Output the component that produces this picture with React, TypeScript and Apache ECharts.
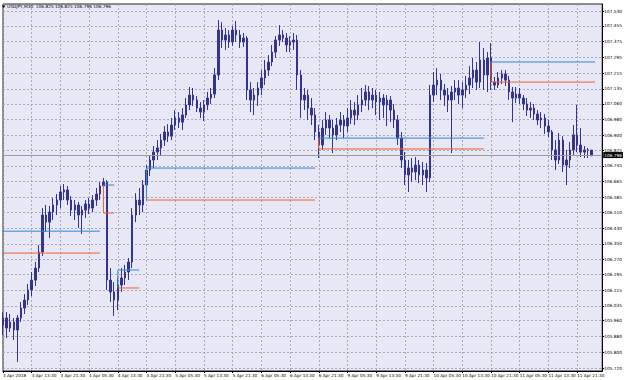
import React, { useEffect, useRef } from "react";
import * as echarts from "echarts";

// ---- categories (H1 bars, MT4 server time) ----
const firstDay = "3 Apr";
const fullDays = ["4 Apr", "5 Apr", "6 Apr", "9 Apr", "10 Apr", "11 Apr"];
const lastDay = "12 Apr";
const firstDayStartHour = 5;
const lastDayEndHour = 4;
const firstLabelText = "3 Apr 2018";

const pad = (h: number) => (h < 10 ? "0" + h : "" + h);
const categories: string[] = [];
for (let h = firstDayStartHour; h < 24; h++) categories.push(`${firstDay} ${pad(h)}:30`);
for (const d of fullDays) for (let h = 0; h < 24; h++) categories.push(`${d} ${pad(h)}:30`);
for (let h = 0; h <= lastDayEndHour; h++) categories.push(`${lastDay} ${pad(h)}:30`);

// ---- OHLC: [open, close, low, high] ----
const candles: number[][] = [
  [105.938, 105.974, 105.888, 106.004],
  [105.974, 105.923, 105.872, 106.004],
  [105.923, 105.953, 105.903, 105.994],
  [105.953, 105.913, 105.862, 105.974],
  [105.913, 105.974, 105.751, 105.989],
  [105.974, 106.024, 105.953, 106.055],
  [106.024, 106.065, 105.994, 106.095],
  [106.065, 106.116, 106.040, 106.146],
  [106.116, 106.166, 106.085, 106.207],
  [106.166, 106.227, 106.136, 106.258],
  [106.227, 106.308, 106.207, 106.344],
  [106.308, 106.496, 106.288, 106.531],
  [106.496, 106.460, 106.410, 106.547],
  [106.460, 106.511, 106.379, 106.542],
  [106.511, 106.547, 106.471, 106.582],
  [106.547, 106.572, 106.496, 106.602],
  [106.572, 106.613, 106.531, 106.643],
  [106.613, 106.623, 106.572, 106.653],
  [106.623, 106.572, 106.547, 106.643],
  [106.572, 106.521, 106.491, 106.592],
  [106.521, 106.547, 106.471, 106.572],
  [106.547, 106.496, 106.430, 106.562],
  [106.496, 106.521, 106.400, 106.542],
  [106.521, 106.552, 106.481, 106.572],
  [106.552, 106.531, 106.501, 106.582],
  [106.531, 106.572, 106.511, 106.597],
  [106.572, 106.602, 106.542, 106.633],
  [106.602, 106.643, 106.572, 106.663],
  [106.643, 106.663, 106.613, 106.684],
  [106.663, 106.166, 106.116, 106.673],
  [106.166, 106.106, 106.055, 106.227],
  [106.106, 106.065, 105.984, 106.156],
  [106.065, 106.141, 106.014, 106.177],
  [106.141, 106.177, 106.106, 106.227],
  [106.177, 106.207, 106.141, 106.243],
  [106.207, 106.258, 106.166, 106.278],
  [106.258, 106.496, 106.227, 106.531],
  [106.496, 106.572, 106.460, 106.607],
  [106.572, 106.547, 106.496, 106.633],
  [106.547, 106.648, 106.511, 106.673],
  [106.648, 106.724, 106.613, 106.749],
  [106.724, 106.775, 106.694, 106.800],
  [106.775, 106.815, 106.734, 106.846],
  [106.815, 106.836, 106.775, 106.876],
  [106.836, 106.876, 106.795, 106.907],
  [106.876, 106.917, 106.846, 106.947],
  [106.917, 106.896, 106.866, 106.957],
  [106.896, 106.952, 106.876, 106.988],
  [106.952, 106.988, 106.927, 107.028],
  [106.988, 106.967, 106.937, 107.018],
  [106.967, 107.003, 106.927, 107.038],
  [107.003, 107.054, 106.988, 107.089],
  [107.054, 107.104, 107.028, 107.145],
  [107.104, 107.079, 107.049, 107.140],
  [107.079, 107.038, 107.018, 107.099],
  [107.038, 107.018, 106.988, 107.069],
  [107.018, 107.054, 106.973, 107.079],
  [107.054, 107.089, 107.028, 107.120],
  [107.089, 107.109, 107.059, 107.140],
  [107.109, 107.206, 107.089, 107.241],
  [107.206, 107.434, 107.180, 107.485],
  [107.434, 107.383, 107.343, 107.474],
  [107.383, 107.409, 107.333, 107.444],
  [107.409, 107.373, 107.343, 107.434],
  [107.373, 107.434, 107.353, 107.454],
  [107.434, 107.409, 107.373, 107.480],
  [107.409, 107.373, 107.343, 107.434],
  [107.373, 107.393, 107.348, 107.419],
  [107.393, 107.130, 107.079, 107.403],
  [107.130, 107.079, 107.018, 107.170],
  [107.079, 107.104, 107.003, 107.140],
  [107.104, 107.140, 107.049, 107.170],
  [107.140, 107.191, 107.104, 107.231],
  [107.191, 107.231, 107.155, 107.282],
  [107.231, 107.272, 107.201, 107.307],
  [107.272, 107.322, 107.251, 107.358],
  [107.322, 107.383, 107.292, 107.403],
  [107.383, 107.409, 107.353, 107.459],
  [107.409, 107.393, 107.373, 107.434],
  [107.393, 107.358, 107.322, 107.419],
  [107.358, 107.373, 107.322, 107.403],
  [107.373, 107.383, 107.333, 107.419],
  [107.383, 107.206, 107.130, 107.409],
  [107.206, 107.079, 106.988, 107.231],
  [107.079, 107.104, 107.028, 107.140],
  [107.104, 107.038, 106.978, 107.130],
  [107.038, 107.003, 106.952, 107.089],
  [107.003, 106.917, 106.876, 107.038],
  [106.917, 106.851, 106.785, 106.952],
  [106.851, 106.937, 106.826, 106.978],
  [106.937, 106.978, 106.902, 107.018],
  [106.978, 106.937, 106.886, 107.003],
  [106.937, 106.902, 106.810, 106.978],
  [106.902, 106.952, 106.876, 106.988],
  [106.952, 106.978, 106.917, 107.018],
  [106.978, 106.947, 106.886, 107.003],
  [106.947, 106.988, 106.917, 107.038],
  [106.988, 107.028, 106.957, 107.079],
  [107.028, 107.003, 106.952, 107.069],
  [107.003, 107.054, 106.978, 107.104],
  [107.054, 107.079, 107.018, 107.140],
  [107.079, 107.120, 107.049, 107.155],
  [107.120, 107.079, 107.028, 107.150],
  [107.079, 107.104, 107.038, 107.140],
  [107.104, 107.069, 107.003, 107.130],
  [107.069, 107.089, 106.978, 107.120],
  [107.089, 107.054, 106.988, 107.109],
  [107.054, 107.079, 106.947, 107.104],
  [107.079, 107.028, 106.967, 107.099],
  [107.028, 106.978, 106.937, 107.059],
  [106.978, 106.886, 106.851, 107.003],
  [106.886, 106.775, 106.734, 106.917],
  [106.775, 106.699, 106.648, 106.815],
  [106.699, 106.734, 106.613, 106.775],
  [106.734, 106.714, 106.663, 106.785],
  [106.714, 106.749, 106.673, 106.790],
  [106.749, 106.699, 106.658, 106.775],
  [106.699, 106.724, 106.648, 106.765],
  [106.724, 106.684, 106.613, 106.760],
  [106.684, 107.104, 106.663, 107.155],
  [107.104, 107.155, 107.069, 107.221],
  [107.155, 107.180, 107.104, 107.241],
  [107.180, 107.130, 107.079, 107.211],
  [107.130, 107.104, 107.049, 107.160],
  [107.104, 107.079, 107.018, 107.140],
  [107.079, 107.120, 106.810, 107.150],
  [107.120, 107.140, 107.079, 107.180],
  [107.140, 107.104, 107.059, 107.180],
  [107.104, 107.130, 107.038, 107.170],
  [107.130, 107.155, 107.089, 107.201],
  [107.155, 107.191, 107.109, 107.251],
  [107.191, 107.231, 107.140, 107.292],
  [107.231, 107.170, 107.130, 107.272],
  [107.170, 107.282, 107.140, 107.373],
  [107.282, 107.206, 107.130, 107.343],
  [107.206, 107.292, 107.120, 107.322],
  [107.292, 107.170, 107.130, 107.368],
  [107.170, 107.155, 107.130, 107.196],
  [107.155, 107.191, 107.140, 107.221],
  [107.191, 107.211, 107.160, 107.231],
  [107.211, 107.180, 107.150, 107.231],
  [107.180, 107.120, 107.079, 107.201],
  [107.120, 107.089, 106.967, 107.145],
  [107.089, 107.109, 107.064, 107.145],
  [107.109, 107.089, 107.059, 107.140],
  [107.089, 107.059, 107.028, 107.104],
  [107.059, 107.028, 106.998, 107.089],
  [107.028, 107.038, 106.988, 107.069],
  [107.038, 107.008, 106.978, 107.059],
  [107.008, 106.978, 106.952, 107.028],
  [106.978, 106.988, 106.937, 107.018],
  [106.988, 106.947, 106.907, 107.008],
  [106.947, 106.917, 106.891, 106.978],
  [106.917, 106.826, 106.775, 106.927],
  [106.826, 106.775, 106.724, 106.876],
  [106.775, 106.876, 106.755, 106.912],
  [106.876, 106.749, 106.714, 106.896],
  [106.749, 106.775, 106.648, 106.826],
  [106.775, 106.826, 106.734, 106.866],
  [106.826, 106.902, 106.800, 106.952],
  [106.902, 106.851, 106.815, 107.054],
  [106.851, 106.815, 106.790, 106.937],
  [106.815, 106.826, 106.785, 106.846],
  [106.826, 106.825, 106.785, 106.836],
  [106.825, 106.796, 106.796, 106.825],
];

// ---- level segments (start/end bar index, upper & lower level) ----
const levelStart = [0, 28, 32, 40, 88, 136];
const levelEnd = [27, 31, 38, 87, 134, 165];
const levelUpper = [106.414, 106.648, 106.217, 106.734, 106.886, 107.272];
const levelLower = [106.303, 106.506, 106.126, 106.572, 106.831, 107.17];
const levelSignal = ["none", "bear", "bull", "bull", "bear", "bear"];

// ---- price axis labels ----
const yTicks = [
  107.53, 107.455, 107.375, 107.295, 107.215, 107.135, 107.06, 106.98, 106.9, 106.825,
  106.745, 106.665, 106.585, 106.51, 106.43, 106.35, 106.27, 106.195, 106.115, 106.035,
  105.96, 105.88, 105.8, 105.72,
];
const yMin = 105.705;
const yMax = 107.566;

const symbol = "USDJPY";
const timeframe = "M30";
const bidPrice = 106.796;

const BAR = "#34348e";
const BLUE = "#2f87d8";
const ORANGE = "#ec6530";
const GRID = "#9b9bb0";
const FONT = "DejaVu Sans";

export default function App() {
  const ref = useRef<HTMLDivElement>(null);

  useEffect(() => {
    if (!ref.current) return;
    const chart = echarts.init(ref.current, undefined, { renderer: "svg" });

    const last = candles[candles.length - 1];
    const title = `${symbol},${timeframe}  ${last[0].toFixed(3)} ${last[3].toFixed(3)} ${last[2].toFixed(3)} ${last[1].toFixed(3)}`;

    const levelSeries: any[] = [];
    levelStart.forEach((s, k) => {
      const e = levelEnd[k];
      const up = levelUpper[k];
      const lo = levelLower[k];
      const sig = levelSignal[k];
      const blueData = sig === "bull" ? [[s, lo], [s, up], [e, up]] : [[s, up], [e, up]];
      const orangeData = sig === "bear" ? [[s, up], [s, lo], [e, lo]] : [[s, lo], [e, lo]];
      levelSeries.push({
        type: "line",
        data: blueData,
        showSymbol: false,
        silent: true,
        z: 4,
        lineStyle: { color: BLUE, width: 1 },
      });
      levelSeries.push({
        type: "line",
        data: orangeData,
        showSymbol: false,
        silent: true,
        z: 4,
        lineStyle: { color: ORANGE, width: 1 },
      });
    });

    chart.setOption({
      animation: false,
      backgroundColor: "#ffffff",
      textStyle: { fontFamily: FONT },
      grid: {
        left: 2,
        right: 19,
        top: 4,
        bottom: 9,
        show: true,
        backgroundColor: "#e7e7f6",
        borderColor: "#222",
        borderWidth: 1,
      },
      xAxis: {
        type: "category",
        data: categories,
        boundaryGap: false,
        axisLine: { show: true, lineStyle: { color: "#000", width: 1 } },
        axisTick: { show: true, interval: 7, length: 2, lineStyle: { color: "#000" } },
        axisLabel: {
          interval: 7,
          align: "left",
          fontSize: 4.2,
          fontFamily: FONT,
          color: "#000",
          margin: 2,
          hideOverlap: false,
          formatter: (v: string, i: number) => (i === 0 ? firstLabelText : v),
        },
        splitLine: { show: true, interval: 7, lineStyle: { color: GRID, type: [2, 2], width: 0.8 } },
      },
      yAxis: {
        type: "value",
        position: "right",
        min: yMin,
        max: yMax,
        axisLine: { show: true, lineStyle: { color: "#000", width: 1 } },
        axisTick: { show: true, length: 2, customValues: yTicks, lineStyle: { color: "#000" } },
        axisLabel: {
          customValues: yTicks,
          formatter: (v: number) => v.toFixed(3),
          fontSize: 4.3,
          fontFamily: FONT,
          color: "#000",
          margin: 2,
        },
        splitLine: { show: true, lineStyle: { color: GRID, type: [2, 2], width: 0.8 } },
      },
      graphic: [
        {
          type: "polygon",
          shape: { points: [[2, 5.5], [5.5, 5.5], [3.75, 8]] },
          style: { fill: "#000" },
          z: 10,
        },
        {
          type: "text",
          left: 7,
          top: 4.5,
          style: { text: title, fontSize: 4.3, fontFamily: FONT, fill: "#000" },
          z: 10,
        },
      ],
      series: [
        {
          type: "candlestick",
          data: candles,
          barWidth: 2,
          silent: true,
          z: 3,
          itemStyle: {
            color: BAR,
            color0: BAR,
            borderColor: BAR,
            borderColor0: BAR,
            borderWidth: 1,
          },
          markLine: {
            silent: true,
            symbol: ["none", "none"],
            data: [{ yAxis: bidPrice }],
            lineStyle: { color: "#9a9a9a", type: "solid", width: 1 },
            label: {
              show: true,
              position: "end",
              distance: 1,
              formatter: bidPrice.toFixed(3),
              backgroundColor: "#000",
              color: "#fff",
              fontSize: 4.3,
              fontFamily: FONT,
              padding: [1, 1],
            },
          },
        },
        ...levelSeries,
      ],
    });

    return () => chart.dispose();
  }, []);

  return (
    <div
      ref={ref}
      style={{ position: "fixed", left: 0, top: 0, width: 625, height: 380, background: "#fff" }}
    />
  );
}
